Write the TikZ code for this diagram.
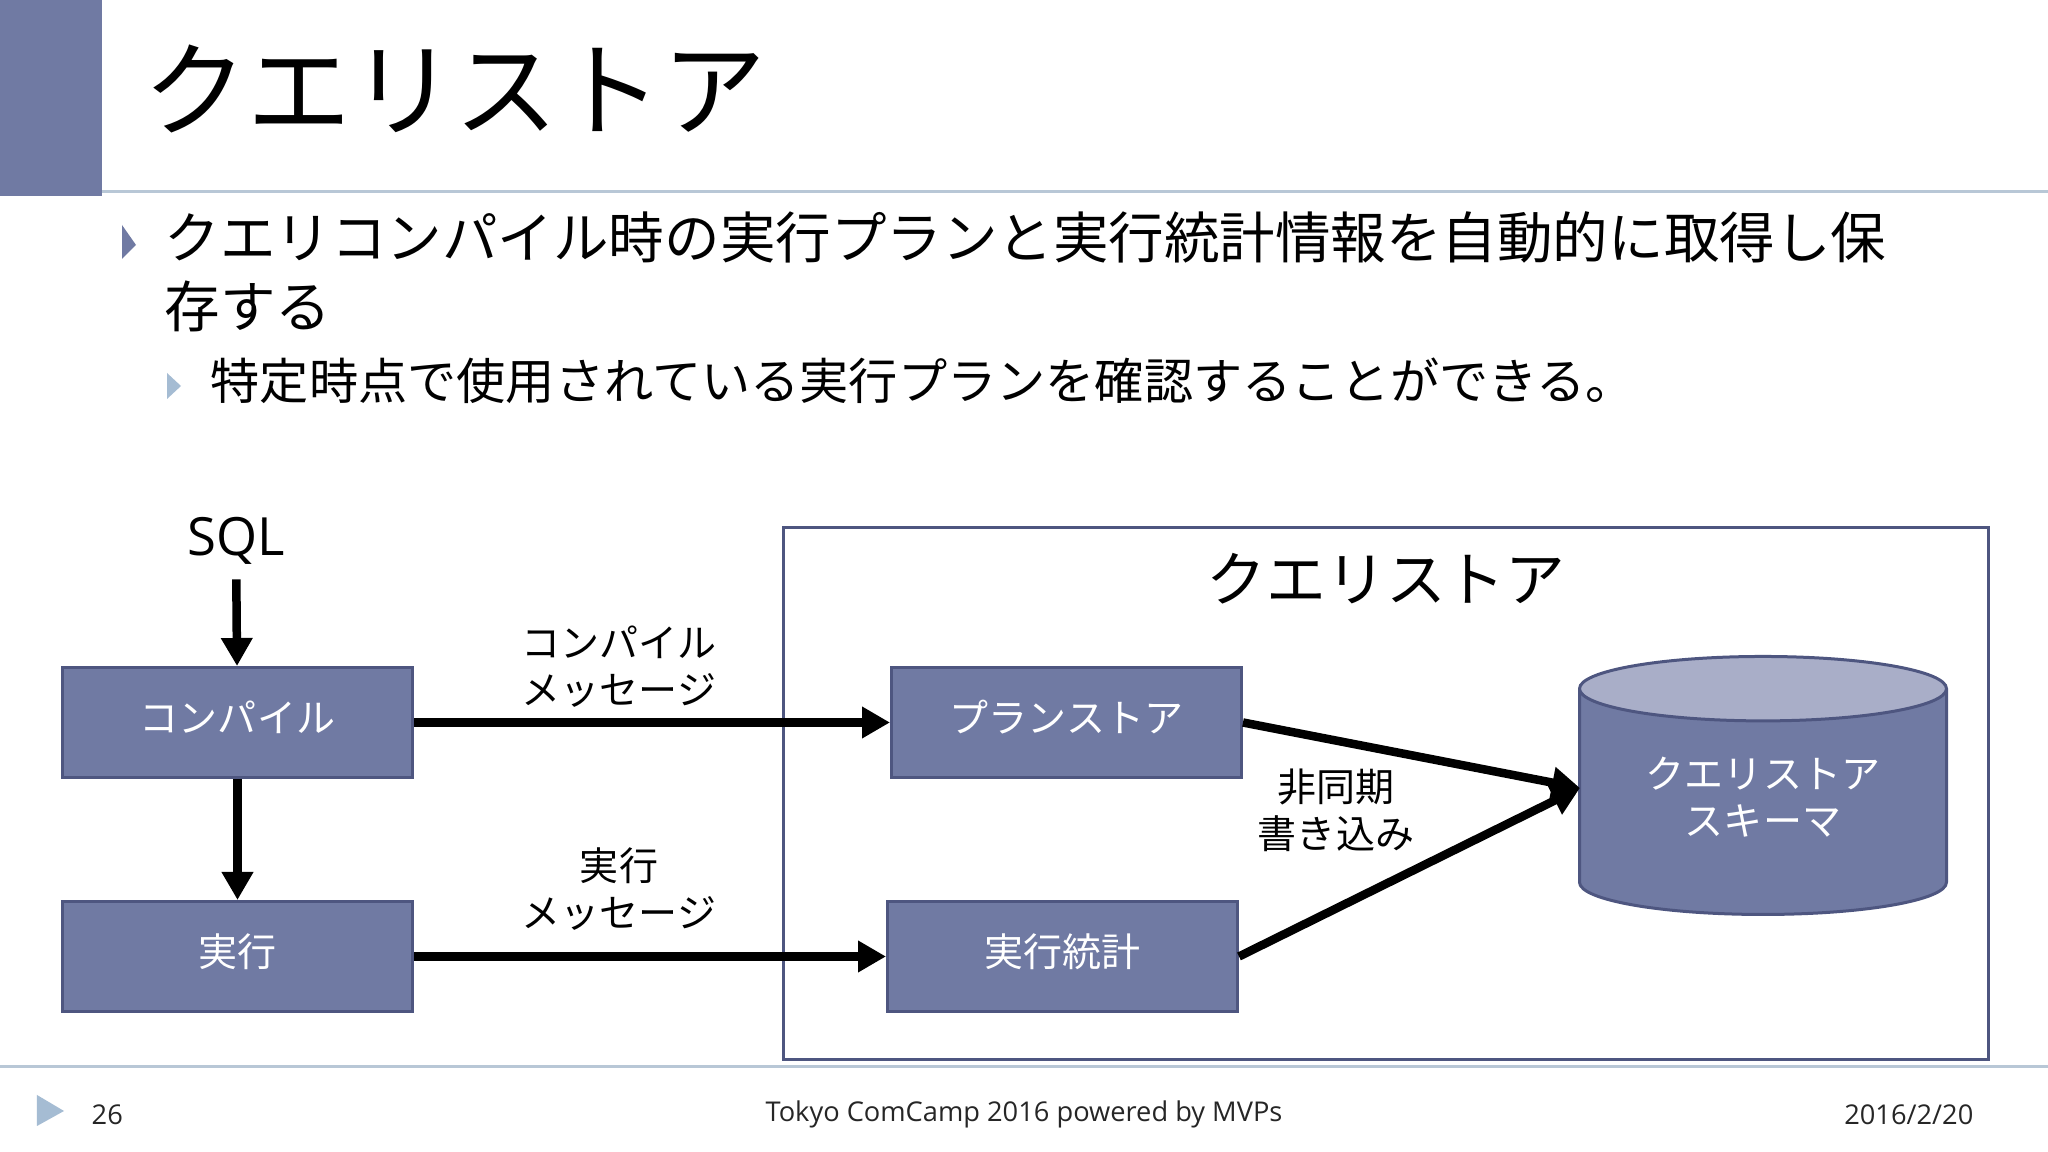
\documentclass[tikz,border=0pt]{standalone}
\usepackage{fontspec}
\usepackage{xcolor}
\usetikzlibrary{arrows.meta,shapes.geometric}
\setmainfont{Noto Sans CJK JP}
\newfontfamily\latinfont{Open Sans}
\definecolor{slidebar}{HTML}{707AA3}
\definecolor{boxedge}{HTML}{4E5680}
\definecolor{cylindertop}{HTML}{A9AEC8}
\definecolor{ruleline}{HTML}{B8C7D6}
\definecolor{bulletsub}{HTML}{A5BCD3}
\tikzset{
	bluebox/.style = {rectangle,
		draw = boxedge,
		line width = 0.03cm,
		fill = slidebar,
		text = white,
		anchor = west,
		align = center,
		minimum width = 3.50cm,
		minimum height = 1.10cm,
		text height = 0.35cm,
		text depth = 0.15cm,
		font = \fontsize{11.1}{13.4}\selectfont},
	flowarrow/.style = {line width = 0.085cm,
		-{Triangle[length=0.28cm,width=0.30cm]}},
	msglabel/.style = {align = center,
		text = black,
		inner sep = 0pt,
		font = \fontsize{11.1}{13.4}\selectfont},
	bodytext/.style = {anchor = west,
		align = left,
		inner sep = 0pt,
		text = black},
	footertext/.style = {inner sep = 0pt,
		text = black!85,
		font = \latinfont\fontsize{7.75}{10}\selectfont}
}
\begin{document}
\begin{tikzpicture}
	\useasboundingbox (0,0) rectangle (20.48,11.52);
	\fill[white] (0,0) rectangle (20.48,11.52);
	
	\fill[slidebar] (0,9.56) rectangle (1.02,11.52);
	\draw[ruleline, line width = 0.03cm] (1.02,9.6) -- (20.48,9.6);
	\draw[ruleline, line width = 0.03cm] (0,0.85) -- (20.48,0.85);
	
	\node[bodytext, font = \fontsize{29.5}{35}\selectfont] (title) at (1.43cm,10.63cm) {クエリストア};
	
	\fill[slidebar] (1.22,9.27) -- (1.36,9.07) -- (1.22,8.93) -- cycle;
	\node[bodytext, font = \fontsize{15.8}{19.6}\selectfont] (bodyone) at (1.64cm,8.80cm) {クエリコンパイル時の実行プランと実行統計情報を自動的に取得し保\\存する};
	
	\fill[bulletsub] (1.67,7.79) -- (1.81,7.66) -- (1.67,7.53) -- cycle;
	\node[bodytext, font = \fontsize{14}{16}\selectfont] (bodytwo) at (2.10cm,7.71cm) {特定時点で使用されている実行プランを確認することができる。};
	
	\node[rectangle,
		draw = boxedge,
		line width = 0.03cm,
		fill = white,
		minimum width = 12.05cm,
		minimum height = 5.32cm] (storeframe) at (13.86cm,3.585cm) {};
	\node[text = black, inner sep = 0pt, font = \fontsize{17}{20}\selectfont] (storetitle) at (13.86cm,5.73cm) {クエリストア};
	
	\node[text = black, inner sep = 4pt, font = \latinfont\fontsize{15}{18}\selectfont] (sql) at (2.36cm,6.11cm) {SQL};
	
	\node[bluebox] (compile) at (0.61cm,4.295cm) {コンパイル};
	\node[bluebox] (execute) at (0.61cm,1.955cm) {実行};
	\node[bluebox] (planstore) at (8.90cm,4.295cm) {プランストア};
	\node[bluebox] (runstats) at (8.86cm,1.955cm) {実行統計};
	
	\node[cylinder,
		shape border rotate = 90,
		aspect = 2.75,
		draw = boxedge,
		line width = 0.03cm,
		cylinder uses custom fill,
		cylinder body fill = slidebar,
		cylinder end fill = cylindertop,
		minimum width = 3.67cm,
		minimum height = 2.58cm] (schema) at (17.63cm,3.44cm) {};
	\coordinate (schemain) at (15.80cm,3.64cm);
	\node[msglabel, text = white] (schemalabel) at (17.63cm,3.55cm) {クエリストア\\スキーマ};
	
	\node[msglabel] (compilemsg) at (6.19cm,4.85cm) {コンパイル\\メッセージ};
	\node[msglabel] (runmsg) at (6.19cm,2.63cm) {実行\\メッセージ};
	\node[msglabel] (asyncmsg) at (13.36cm,3.42cm) {非同期\\書き込み};
	
	\draw[flowarrow] (sql) -- (compile);
	\draw[flowarrow] (compile) -- (execute);
	\draw[flowarrow] (compile) -- (planstore);
	\draw[flowarrow] (execute) -- (runstats);
	\draw[flowarrow] (planstore.east) -- (schemain);
	\draw[flowarrow] (runstats.east) -- (schemain);
	
	\fill[bulletsub] (0.37,0.57) -- (0.64,0.41) -- (0.37,0.26) -- cycle;
	\node[footertext, anchor = west] (pagenum) at (0.91cm,0.375cm) {26};
	\node[footertext] (footer) at (10.24cm,0.375cm) {Tokyo ComCamp 2016 powered by MVPs};
	\node[footertext, anchor = east] (date) at (19.74cm,0.375cm) {2016/2/20};
	
\end{tikzpicture}
\end{document}
